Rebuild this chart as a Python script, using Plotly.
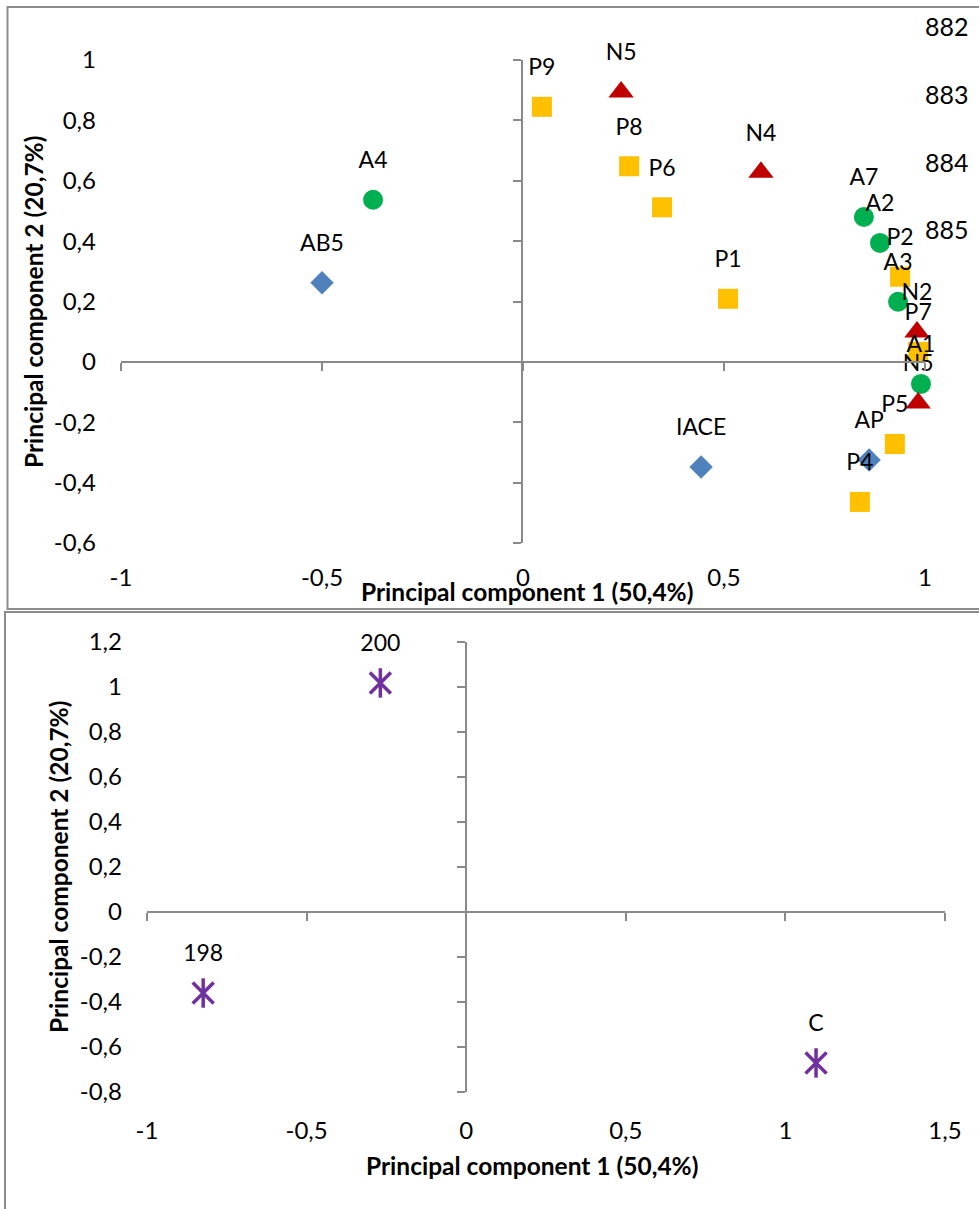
import plotly.graph_objects as go

W, H = 979, 1209

# ---------------- data (top chart) ----------------
blue_labels = ["AB5", "IACE", "AP"]
blue_x = [-0.500, 0.443, 0.861]
blue_y = [0.262, -0.348, -0.325]

green_labels = ["A4", "A7", "A2", "A3", "A1"]
green_x = [-0.373, 0.848, 0.888, 0.933, 0.990]
green_y = [0.537, 0.480, 0.394, 0.199, -0.073]

red_labels = ["N5", "N4", "N2", "N5"]
red_x = [0.244, 0.592, 0.980, 0.983]
red_y = [0.894, 0.628, 0.099, -0.136]

yellow_labels = ["P9", "P8", "P6", "P1", "P2", "P7", "P5", "P4"]
yellow_x = [0.047, 0.264, 0.346, 0.510, 0.938, 0.983, 0.925, 0.838]
yellow_y = [0.845, 0.648, 0.512, 0.209, 0.282, 0.033, -0.272, -0.464]

series_names = ["882", "883", "884", "885"]

top_xticks = [-1, -0.5, 0, 0.5, 1]
top_xtext = ["-1", "-0,5", "0", "0,5", "1"]
top_yticks = [-0.6, -0.4, -0.2, 0, 0.2, 0.4, 0.6, 0.8, 1]
top_ytext = ["-0,6", "-0,4", "-0,2", "0", "0,2", "0,4", "0,6", "0,8", "1"]

# ---------------- data (bottom chart) ----------------
star_labels = ["200", "198", "C"]
star_x = [-0.269, -0.824, 1.096]
star_y = [1.018, -0.360, -0.671]

bot_xticks = [-1, -0.5, 0, 0.5, 1, 1.5]
bot_xtext = ["-1", "-0,5", "0", "0,5", "1", "1,5"]
bot_yticks = [-0.8, -0.6, -0.4, -0.2, 0, 0.2, 0.4, 0.6, 0.8, 1, 1.2]
bot_ytext = ["-0,8", "-0,6", "-0,4", "-0,2", "0", "0,2", "0,4", "0,6", "0,8", "1", "1,2"]

x_title = "Principal component 1 (50,4%)"
y_title = "Principal component 2 (20,7%)"

FONT = "Lato, 'Noto Sans', sans-serif"
AX = "#898989"
LBL = dict(family=FONT, size=23, color="#000000")

fig = go.Figure()

def add_markers(xs, ys, symbol, color, size, name, xa="x", ya="y", lw=0):
    fig.add_trace(go.Scatter(
        x=xs, y=ys, mode="markers", name=name, showlegend=False, xaxis=xa, yaxis=ya,
        marker=dict(symbol=symbol, color=color, size=size, line=dict(width=lw, color=color)),
        cliponaxis=False, hoverinfo="skip"))

def add_labels(xs, ys, labels, xa="x", ya="y"):
    # transparent marker sized so that the label sits above the visible marker
    fig.add_trace(go.Scatter(
        x=xs, y=ys, text=labels, mode="markers+text", textposition="top center",
        textfont=LBL, showlegend=False, xaxis=xa, yaxis=ya,
        marker=dict(size=40, color="rgba(0,0,0,0)"), cliponaxis=False))

add_markers(blue_x, blue_y, "diamond", "#4F81BD", 18, series_names[0])
add_markers(green_x, green_y, "circle", "#00B050", 20, series_names[1])
add_markers(red_x, red_y, "triangle-up", "#C00000", 22, series_names[2])
add_markers(yellow_x, yellow_y, "square", "#FFC000", 20, series_names[3])
add_labels(blue_x, blue_y, blue_labels)
add_labels(green_x, green_y, green_labels)
add_labels(red_x, red_y, red_labels)
add_labels(yellow_x, yellow_y, yellow_labels)

# bottom: star marker (x + vertical bar)
add_markers(star_x, star_y, "x-thin-open", "#7030A0", 21, "star", "x2", "y2", 3.5)
add_markers(star_x, star_y, "line-ns-open", "#7030A0", 21, "star", "x2", "y2", 3.5)
add_labels(star_x, star_y, star_labels, "x2", "y2")

# dummy traces so that the overlay (axis-line) axes are drawn
fig.add_trace(go.Scatter(x=[], y=[], xaxis="x3", yaxis="y3", showlegend=False))
fig.add_trace(go.Scatter(x=[], y=[], xaxis="x4", yaxis="y4", showlegend=False))

def px(x):
    return x / W

def py(y):
    return 1 - y / H

tickfont = dict(family=FONT, size=24, color="#000000")

def label_axis(domain, rng, tv, tt, anchor, standoff):
    return dict(domain=domain, range=rng, anchor=anchor, showline=False, showgrid=False,
                zeroline=False, ticks="", tickvals=tv, ticktext=tt, tickfont=tickfont,
                ticklabelstandoff=standoff, fixedrange=True, automargin=False)

def line_axis(overlay, rng, tv, pos):
    return dict(overlaying=overlay, anchor="free", position=pos, range=rng, showline=True,
                linecolor=AX, linewidth=1.5, ticks="outside", ticklen=8, tickwidth=1.5,
                tickcolor=AX, tickvals=tv, showticklabels=False, showgrid=False,
                zeroline=False, fixedrange=True, automargin=False)

top_xdom = [px(121), px(925)]
top_ydom = [py(543), py(60)]
bot_xdom = [px(147), px(945)]
bot_ydom = [py(1092), py(642)]

fig.update_layout(
    template="none",
    width=W, height=H, margin=dict(l=0, r=0, t=0, b=0, pad=0, autoexpand=False),
    paper_bgcolor="white", plot_bgcolor="rgba(0,0,0,0)",
    font=dict(family=FONT, color="#000000"),
    showlegend=False,
    xaxis=label_axis(top_xdom, [-1, 1], top_xticks, top_xtext, "y", 18),
    yaxis=label_axis(top_ydom, [-0.6, 1], top_yticks, top_ytext, "x", 24),
    xaxis2=label_axis(bot_xdom, [-1, 1.5], bot_xticks, bot_xtext, "y2", 22),
    yaxis2=label_axis(bot_ydom, [-0.8, 1.2], bot_yticks, bot_ytext, "x2", 24),
    xaxis3=line_axis("x", [-1, 1], top_xticks, py(362)),
    yaxis3=line_axis("y", [-0.6, 1], top_yticks, px(522)),
    xaxis4=line_axis("x2", [-1, 1.5], bot_xticks, py(912)),
    yaxis4=line_axis("y2", [-0.8, 1.2], bot_yticks, px(466)),
)

border = dict(color="#8C8C8C", width=2)
fig.add_shape(type="rect", xref="paper", yref="paper", x0=px(7.5), x1=px(995),
              y0=py(609), y1=py(7), line=border, layer="below")
fig.add_shape(type="rect", xref="paper", yref="paper", x0=px(5), x1=px(995),
              y0=py(1225), y1=py(612), line=border, layer="below")

title_font = dict(family=FONT, size=24.5, color="#000000")
ann = [
    dict(x=px(527), y=py(591), text="<b>%s</b>" % x_title),
    dict(x=px(532), y=py(1165), text="<b>%s</b>" % x_title),
    dict(x=px(33), y=py(302), text="<b>%s</b>" % y_title, textangle=-90),
    dict(x=px(58), y=py(867), text="<b>%s</b>" % y_title, textangle=-90),
]
for a in ann:
    fig.add_annotation(xref="paper", yref="paper", showarrow=False, font=title_font,
                       xanchor="center", yanchor="middle", **a)

leg_y = [26, 94, 162, 229]
for name, yy in zip(series_names, leg_y):
    fig.add_annotation(xref="paper", yref="paper", x=px(923), y=py(yy), text=name,
                       showarrow=False, xanchor="left", yanchor="middle",
                       font=dict(family=FONT, size=25, color="#000000"))

fig.write_html("out.html")
